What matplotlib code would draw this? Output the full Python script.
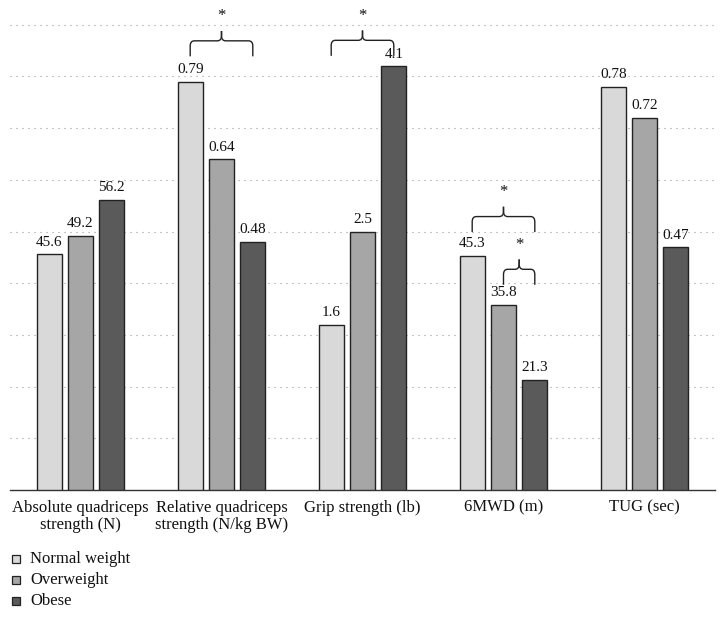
import matplotlib
matplotlib.use("Agg")
import matplotlib.pyplot as plt
import numpy as np
from matplotlib.path import Path
from matplotlib.patches import PathPatch

categories = ["Absolute quadriceps\nstrength (N)", "Relative quadriceps\nstrength (N/kg BW)",
              "Grip strength (lb)", "6MWD (m)", "TUG (sec)"]
series = ["Normal weight", "Overweight", "Obese"]
normal = [45.6, 0.79, 1.6, 45.3, 0.78]
overweight = [49.2, 0.64, 2.5, 35.8, 0.72]
obese = [56.2, 0.48, 4.1, 21.3, 0.47]
labels_txt = [["45.6", "0.79", "1.6", "45.3", "0.78"],
              ["49.2", "0.64", "2.5", "35.8", "0.72"],
              ["56.2", "0.48", "4.1", "21.3", "0.47"]]
# display scale per category (chart draws different units on one axis)
scale = [1, 100, 20, 1, 100]
# significance brackets: (category index, from series, to series, y level)
brackets = [(1, 0, 2, 86.9), (2, 0, 2, 87.0), (3, 0, 2, 52.9), (3, 1, 2, 42.7)]

colors = ["#d9d9d9", "#a6a6a6", "#5a5a5a"]
font = ["Liberation Serif", "DejaVu Serif"]
plt.rcParams['font.family'] = font

fig = plt.figure(figsize=(7.26, 6.17), dpi=100)
ax = fig.add_axes([10/726, 1 - 490/617, 705/726, 490/617])
ax.set_xlim(-0.5, 4.5)
ax.set_ylim(0, 94.8)

x = np.arange(len(categories))
off = 0.222
w = 0.177
vals = [normal, overweight, obese]
for i, (v, c) in enumerate(zip(vals, colors)):
    h = np.array(v) * np.array(scale)
    xs = x + (i - 1) * off
    ax.bar(xs, h, width=w, color=c, edgecolor="#222222", linewidth=1.0, zorder=3)
    for xi, hi, t in zip(xs, h, labels_txt[i]):
        ax.annotate(t, (xi, hi), xytext=(0, 4), textcoords="offset points",
                    ha="center", va="bottom", fontsize=11, color="#111111")

for yv in range(10, 91, 10):
    ax.axhline(yv, color="#999999", lw=0.8, linestyle=(0, (1, 4.4)), zorder=1)

def brace(xa, xb, yh, ax):
    dy_tip = 3.0
    dy_spk = 1.9
    rx = 0.03
    ry = 1.0
    xm = (xa + xb) / 2
    verts = [(xa, yh - dy_tip), (xa, yh - ry), (xa, yh), (xa + rx, yh),
             (xm - rx, yh), (xm, yh), (xm, yh + ry), (xm, yh + dy_spk)]
    codes = [Path.MOVETO, Path.LINETO, Path.CURVE3, Path.CURVE3,
             Path.LINETO, Path.CURVE3, Path.CURVE3, Path.LINETO]
    verts2 = [(xb, yh - dy_tip), (xb, yh - ry), (xb, yh), (xb - rx, yh),
              (xm + rx, yh), (xm, yh), (xm, yh + ry), (xm, yh + dy_spk)]
    for vv in (verts, verts2):
        ax.add_patch(PathPatch(Path(vv, codes), fill=False, edgecolor="#222222",
                               lw=1.0, clip_on=False, zorder=4))
    ax.text(xm, yh + dy_spk + 1.3, "*", ha="center", va="bottom", fontsize=12,
            color="#111111", clip_on=False)

for ci, a, b, yh in brackets:
    brace(ci + (a - 1) * off, ci + (b - 1) * off, yh, ax)

for s in ["top", "right", "left"]:
    ax.spines[s].set_visible(False)
ax.spines["bottom"].set_color("#333333")
ax.spines["bottom"].set_linewidth(1.0)
ax.set_yticks([])
ax.set_xticks(x)
ax.set_xticklabels(categories, fontsize=12, color="#111111", linespacing=1.1)
ax.tick_params(axis="x", length=0, pad=7)

# legend
for i, (name, c) in enumerate(zip(series, colors)):
    yy = 1 - (559 + 21 * i) / 617
    fig.patches.append(plt.Rectangle((12/726, yy - 4/617), 8/726, 8/617,
                                     transform=fig.transFigure, facecolor=c,
                                     edgecolor="#222222", lw=0.9))
    fig.text(30/726, yy, name, fontsize=12, va="center", ha="left", color="#111111")

fig.savefig("out.png", dpi=100)
